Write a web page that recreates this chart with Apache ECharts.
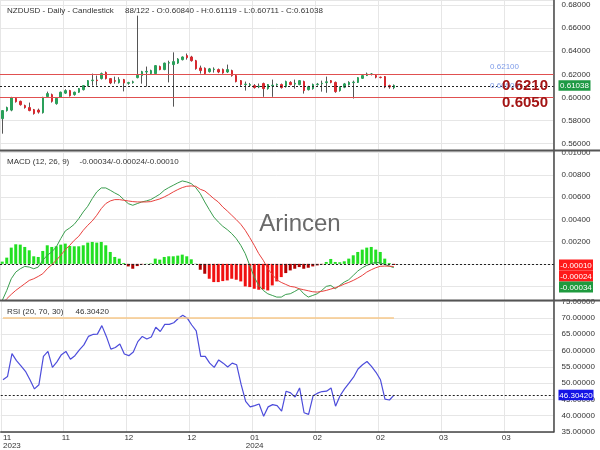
<!DOCTYPE html>
<html><head><meta charset="utf-8">
<script src="https://cdn.jsdelivr.net/npm/echarts@6/dist/echarts.min.js"></script>
<style>html,body{margin:0;padding:0;background:#fff}#c{width:600px;height:450px}</style>
</head><body><div id="c"></div>
<script>
// ---------- data ----------
const opens  = [.5816,.5886,.5890,.5992,.5966,.5929,.5912,.5894,.5890,.5868,
  .6007,.6024,.5946,.6000,.6037,.6059,.6024,.6045,.6067,.6102,
  .6145,.6150,.6163,.6215,.6163,.6145,.6128,.6154,.6122,.6128,
  .6171,.6189,.6220,.6206,.6206,.6267,.6241,.6297,.6284,.6297,
  .6327,.6362,.6350,.6318,.6255,.6252,.6223,.6241,.6241,.6241,
  .6220,.6232,.6189,.6145,.6111,.6105,.6102,.6090,.6120,.6076,
  .6100,.6108,.6111,.6093,.6130,.6115,.6111,.6137,.6067,.6076,
  .6111,.6119,.6128,.6145,.6130,.6059,.6088,.6111,.6128,.6130,
  .6165,.6189,.6200,.6189,.6175,.6180,.6102,.60840];
const closes = [.5886,.5912,.5998,.5963,.5937,.5912,.5886,.5860,.5873,.6000,
  .6033,.5966,.5992,.6045,.6059,.6015,.6045,.6076,.6102,.6145,
  .6150,.6145,.6206,.6163,.6125,.6140,.6154,.6125,.6128,.6135,
  .6192,.6223,.6225,.6232,.6275,.6241,.6297,.6301,.6310,.6332,
  .6350,.6344,.6318,.6249,.6232,.6206,.6247,.6245,.6220,.6212,
  .6241,.6189,.6137,.6111,.6115,.6111,.6085,.6098,.6076,.6111,
  .6105,.6113,.6085,.6137,.6111,.6122,.6145,.6059,.6093,.6111,
  .6115,.6122,.6135,.6130,.6050,.6088,.6117,.6130,.6132,.6171,
  .6189,.6203,.6203,.6175,.6172,.6090,.6090,.61038];
const lows   = [.5686,.5877,.5880,.5955,.5929,.5903,.5880,.5851,.5860,.5860,
  .6000,.5955,.5937,.5995,.6030,.6007,.6015,.6040,.6060,.6095,
  .6102,.6102,.6155,.6155,.6115,.6119,.6120,.6052,.6110,.6119,
  .6165,.6119,.6093,.6200,.6200,.6235,.6235,.6130,.5920,.6290,
  .6320,.6327,.6310,.6240,.6206,.6197,.6215,.6215,.6210,.6205,
  .6212,.6180,.6130,.6100,.6059,.6095,.6076,.6080,.6005,.6067,
  .6005,.6100,.6076,.6085,.6105,.6076,.6105,.6033,.6060,.6067,
  .6102,.6050,.6040,.6122,.6040,.6050,.6080,.6102,.5990,.6125,
  .6160,.6185,.6190,.6165,.6165,.6080,.6075,.60711];
const highs  = [.5890,.5920,.6005,.6000,.5972,.5937,.5955,.5900,.5903,.6005,
  .6050,.6033,.5998,.6050,.6070,.6065,.6050,.6080,.6107,.6150,
  .6206,.6189,.6215,.6225,.6168,.6180,.6175,.6160,.6135,.6145,
  .6708,.6230,.6267,.6240,.6280,.6275,.6301,.6318,.6390,.6340,
  .6355,.6380,.6360,.6325,.6275,.6260,.6255,.6260,.6250,.6250,
  .6284,.6240,.6195,.6150,.6137,.6125,.6115,.6120,.6128,.6115,
  .6154,.6120,.6120,.6145,.6140,.6154,.6150,.6145,.6100,.6120,
  .6125,.6145,.6180,.6150,.6137,.6095,.6125,.6140,.6145,.6175,
  .6195,.6215,.6210,.6195,.6180,.6185,.6110,.61119];

const macdLine = [-0.00329,-0.00239,-0.00134,-0.00074,-0.00044,-0.00023,-0.00029,-0.00044,-0.00029,0.00032,
  0.00077,0.00107,0.00152,0.00227,0.00296,0.00323,0.00356,0.00407,0.00467,0.00518,
  0.00587,0.00647,0.00683,0.00683,0.00662,0.00638,0.00617,0.00578,0.00542,0.00527,
  0.00542,0.00557,0.00566,0.00578,0.00602,0.00626,0.00662,0.00686,0.00707,0.00728,
  0.00746,0.00737,0.00722,0.00686,0.00632,0.00557,0.00488,0.00422,0.00377,0.00338,
  0.00308,0.00272,0.00227,0.00167,0.00092,-0.00014,-0.00119,-0.00194,-0.00239,-0.00269,
  -0.00284,-0.00299,-0.00299,-0.00275,-0.00269,-0.00248,-0.00224,-0.00269,-0.00299,-0.00284,
  -0.00269,-0.00239,-0.00203,-0.00194,-0.00224,-0.00194,-0.00164,-0.00143,-0.00104,-0.00065,
  -0.00035,-0.00014,0.00002,0.00014,0.00010,-0.00005,-0.00020,-0.00034];
const signalLine = [-0.00359,-0.00314,-0.00275,-0.00239,-0.00209,-0.00179,-0.00149,-0.00134,-0.00113,-0.00089,
  -0.00044,-0.00008,0.00032,0.00077,0.00128,0.00167,0.00212,0.00248,0.00302,0.00347,
  0.00386,0.00437,0.00497,0.00542,0.00566,0.00578,0.00578,0.00572,0.00566,0.00560,
  0.00557,0.00557,0.00557,0.00560,0.00572,0.00584,0.00602,0.00623,0.00647,0.00668,
  0.00686,0.00698,0.00701,0.00698,0.00671,0.00656,0.00623,0.00587,0.00557,0.00512,
  0.00476,0.00437,0.00398,0.00356,0.00302,0.00236,0.00167,0.00092,0.00032,-0.00044,
  -0.00095,-0.00143,-0.00167,-0.00185,-0.00203,-0.00209,-0.00224,-0.00233,-0.00242,-0.00251,
  -0.00254,-0.00248,-0.00239,-0.00227,-0.00215,-0.00200,-0.00182,-0.00167,-0.00149,-0.00128,
  -0.00104,-0.00074,-0.00053,-0.00035,-0.00022,-0.00020,-0.00021,-0.00024];
const macdHist = [0.00020,0.00056,0.00146,0.00176,0.00173,0.00152,0.00122,0.00068,0.00062,0.00116,
  0.00167,0.00152,0.00158,0.00173,0.00182,0.00161,0.00158,0.00158,0.00167,0.00191,
  0.00197,0.00191,0.00197,0.00167,0.00107,0.00062,0.00047,0.00008,-0.00023,-0.00044,
  -0.00020,-0.00005,0.00002,0.00005,0.00047,0.00038,0.00062,0.00068,0.00068,0.00074,
  0.00083,0.00068,0.00041,0.00002,-0.00053,-0.00089,-0.00134,-0.00164,-0.00164,-0.00155,
  -0.00149,-0.00134,-0.00143,-0.00158,-0.00203,-0.00209,-0.00224,-0.00233,-0.00230,-0.00239,
  -0.00194,-0.00158,-0.00119,-0.00083,-0.00059,-0.00044,-0.00029,-0.00044,-0.00035,-0.00023,
  -0.00014,-0.00005,0.00017,0.00044,0.00017,0.00014,0.00023,0.00047,0.00077,0.00107,
  0.00128,0.00146,0.00152,0.00128,0.00107,0.00047,0.00008,-0.00010];
const rsiValues = [51.0,52.0,59.0,56.9,55.3,53.6,51.0,48.2,49.5,58.2,
  59.7,54.8,56.5,58.7,59.7,57.3,58.4,60.2,61.7,64.3,
  64.9,65.0,67.6,64.3,60.4,60.9,62.0,58.9,58.4,59.5,
  62.7,64.3,63.5,64.1,67.1,65.8,68.0,68.0,68.5,69.8,
  70.8,69.9,67.8,66.0,58.2,58.2,56.1,54.8,57.1,56.1,
  54.9,56.1,55.6,49.5,44.4,42.7,43.1,43.6,39.8,42.7,
  43.4,43.1,41.4,47.5,47.0,45.7,48.5,40.9,40.4,46.1,
  46.9,47.4,47.5,48.5,42.9,46.1,48.2,50.0,51.8,54.3,
  55.6,56.6,55.1,53.3,51.0,45.1,44.8,46.30420];

const xTickLabels = ['11\n2023','11','12','12','01\n2024','02','02','03','03'];
const tickStep = 14;
const slotCount = 123;
const resistanceLevel = 0.621;
const supportLevel = 0.605;
const rsiUpper = 70;
const rsiTitle = 'RSI (20, 70, 30)';
const macdTitle = 'MACD (12, 26, 9)';
const priceTitle = 'NZDUSD - Daily - Candlestick';
const barsInfo = '88/122';

// ---------- build ----------
const n = closes.length;
const last = n - 1;
const categories = Array.from({length: slotCount}, (_, i) => String(i));
const wickData = opens.map((o, i) => [o, closes[i], lows[i], highs[i]]);
const bodyData = opens.map((o, i) => [o, closes[i], Math.min(o, closes[i]), Math.max(o, closes[i])]);
const lastClose = closes[last];

const FONT = '"Liberation Sans", Arial, sans-serif';
const UP = '#2aa05a', DOWN = '#d8292f';
const GRIDC = '#e6e6e6';

function xAxisFor(gi, show) {
  return {
    type: 'category', gridIndex: gi, data: categories, boundaryGap: true,
    axisLine: {show: show, lineStyle: {color: '#444', width: 1.5}},
    axisTick: {show: false},
    axisLabel: {
      show: show, interval: (i) => i % tickStep === 0,
      formatter: (v, i) => xTickLabels[Math.round(Number(v) / tickStep)] || '',
      fontSize: 8, color: '#333', fontFamily: FONT, margin: 2, lineHeight: 8,
      alignMinLabel: 'left'
    },
    splitLine: {show: true, interval: (i) => i % tickStep === 0, lineStyle: {color: GRIDC, width: 1}}
  };
}
function yAxisFor(gi, extra) {
  return Object.assign({
    type: 'value', gridIndex: gi, position: 'right', scale: true,
    axisLine: {show: true, lineStyle: {color: '#444', width: 1.5}},
    axisTick: {show: false},
    axisLabel: {fontSize: 8, color: '#333', fontFamily: FONT, margin: 8,
      formatter: (v) => v.toFixed(5)},
    splitLine: {show: true, lineStyle: {color: GRIDC, width: 1}}
  }, extra);
}

const dashed = {type: [2, 2], color: '#222', width: 1};

const option = {
  animation: false,
  backgroundColor: '#fff',
  grid: [
    {left: 0, right: 46.5, top: 0, height: 150},
    {left: 0, right: 46.5, top: 151, height: 149},
    {left: 0, right: 46.5, top: 301.5, height: 131}
  ],
  xAxis: [xAxisFor(0, false), xAxisFor(1, false), xAxisFor(2, true)],
  yAxis: [
    yAxisFor(0, {min: 0.55446, max: 0.68433, splitNumber: 6,
      axisLabel: {fontSize: 8, color: '#333', fontFamily: FONT, margin: 8, showMinLabel: false, showMaxLabel: false, formatter: (v) => v.toFixed(5)}}),
    yAxisFor(1, {min: -0.003252, max: 0.010153, splitNumber: 6,
      axisLabel: {fontSize: 8, color: '#333', fontFamily: FONT, margin: 8, showMinLabel: false, showMaxLabel: false, formatter: (v) => v.toFixed(5)}}),
    yAxisFor(2, {min: 35, max: 75, interval: 5})
  ],
  series: [
    {type: 'candlestick', xAxisIndex: 0, yAxisIndex: 0, data: wickData, barWidth: 1,
      itemStyle: {color: '#555', color0: '#555', borderColor: '#555', borderColor0: '#555', borderWidth: 1},
      markLine: {silent: true, symbol: 'none', label: {show: false}, animation: false,
        data: [
          {yAxis: resistanceLevel, lineStyle: {color: '#e05050', width: 1.2, type: 'solid'}},
          {yAxis: supportLevel, lineStyle: {color: '#e05050', width: 1.2, type: 'solid'}},
          {yAxis: lastClose, lineStyle: dashed}
        ]}
    },
    {type: 'candlestick', xAxisIndex: 0, yAxisIndex: 0, data: bodyData, barWidth: 2,
      itemStyle: {color: UP, color0: DOWN, borderColor: UP, borderColor0: DOWN, borderWidth: 1}},
    {type: 'bar', xAxisIndex: 1, yAxisIndex: 1, data: macdHist, barWidth: 3,
      itemStyle: {color: (p) => p.value >= 0 ? '#22e022' : (p.value > -0.0009 ? '#b00000' : '#f01010')},
      markLine: {silent: true, symbol: 'none', label: {show: false}, animation: false,
        data: [{yAxis: macdHist[last], lineStyle: dashed}, {yAxis: signalLine[last], lineStyle: dashed}, {yAxis: macdLine[last], lineStyle: dashed}]}
    },
    {type: 'line', xAxisIndex: 1, yAxisIndex: 1, data: macdLine, showSymbol: false, clip: true,
      lineStyle: {color: '#3a9d4e', width: 1}},
    {type: 'line', xAxisIndex: 1, yAxisIndex: 1, data: signalLine, showSymbol: false, clip: true,
      lineStyle: {color: '#e8413e', width: 1}},
    {type: 'line', xAxisIndex: 2, yAxisIndex: 2, data: rsiValues, showSymbol: false, clip: true,
      lineStyle: {color: '#4d4ddb', width: 1.2}, z: 3,
      markLine: {silent: true, symbol: 'none', label: {show: false}, animation: false,
        data: [
          {yAxis: rsiValues[last], lineStyle: dashed},
          [{coord: [0, rsiUpper], lineStyle: {color: '#f7c98a', width: 1.5, type: 'solid'}}, {coord: [last, rsiUpper]}]
        ]}
    }
  ]
};

const chart = echarts.init(document.getElementById('c'), null, {renderer: 'canvas'});
chart.setOption(option);

const py0 = (v) => chart.convertToPixel({yAxisIndex: 0}, v);
const py1 = (v) => chart.convertToPixel({yAxisIndex: 1}, v);
const py2 = (v) => chart.convertToPixel({yAxisIndex: 2}, v);

function txt(x, y, text, opts) {
  return Object.assign({type: 'text', x: x, y: y, z: 100,
    style: Object.assign({text: text, font: '8px ' + FONT, fill: '#333', align: 'left', verticalAlign: 'middle'}, (opts || {}))});
}
function box(x, yc, w, h, fill, text) {
  return [
    {type: 'rect', z: 100, shape: {x: x, y: yc - h / 2, width: w, height: h}, style: {fill: fill}},
    {type: 'text', z: 101, x: x + w / 2, y: yc + 0.5, style: {text: text, font: '8px ' + FONT, fill: '#fff', align: 'center', verticalAlign: 'middle'}}
  ];
}

const yRes = py0(resistanceLevel), ySup = py0(supportLevel), yLast = py0(lastClose);
const yH = py1(macdHist[last]);
const yR = py2(rsiValues[last]);

const elements = [
  {type: 'line', z: 90, shape: {x1: 0, y1: 150.5, x2: 600, y2: 150.5}, style: {stroke: '#555', lineWidth: 2}},
  {type: 'line', z: 90, shape: {x1: 0, y1: 300.5, x2: 600, y2: 300.5}, style: {stroke: '#555', lineWidth: 2}},
  {type: 'text', z: 1, x: 300, y: 224, style: {text: 'Arincen', font: '24px ' + FONT, fill: '#6a6a6a', align: 'center', verticalAlign: 'middle'}},
  txt(7, 10.5, priceTitle),
  txt(125, 10.5, barsInfo + ' - O:' + opens[last].toFixed(5) + ' - H:' + highs[last].toFixed(5) + ' - L:' + lows[last].toFixed(5) + ' - C:' + closes[last].toFixed(5)),
  txt(7, 161.5, macdTitle),
  txt(79.5, 161.5, macdLine[last].toFixed(5) + '/' + signalLine[last].toFixed(5) + '/' + macdHist[last].toFixed(5)),
  txt(7, 312, rsiTitle),
  txt(75.5, 312, rsiValues[last].toFixed(5)),
  txt(519, yRes - 6, resistanceLevel.toFixed(5), {fill: '#7d9be8', align: 'right'}),
  txt(519, ySup - 5.5, supportLevel.toFixed(5), {fill: '#7d9be8', align: 'right'}),
  txt(548, yRes + 12.5, resistanceLevel.toFixed(4), {fill: '#a31414', align: 'right', font: 'bold 15px ' + FONT}),
  txt(548, ySup + 11, supportLevel.toFixed(4), {fill: '#a31414', align: 'right', font: 'bold 15px ' + FONT})
].concat(
  box(558.5, yLast, 32, 10.5, '#1f9a45', lastClose.toFixed(5)),
  box(559, yH, 34, 11, '#ff1a1a', macdHist[last].toFixed(5)),
  box(559, yH + 11, 34, 11, '#ff1a1a', signalLine[last].toFixed(5)),
  box(559, yH + 22, 34, 11, '#1e9a3e', macdLine[last].toFixed(5)),
  box(558.5, yR, 35, 10.5, '#1414e6', rsiValues[last].toFixed(5))
);

chart.setOption({graphic: {elements: elements}});
</script>
</body></html>
